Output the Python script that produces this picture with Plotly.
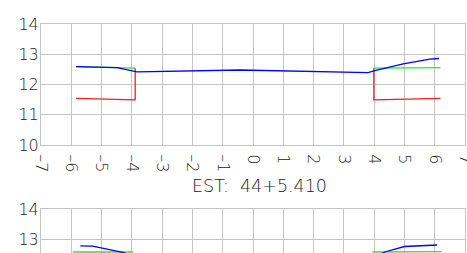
import plotly.graph_objects as go

# Section 1 (EST 44+5.410)
green1_x = [-5.84, -3.89]
green1_y = [12.59, 12.54]
green1b_x = [3.99, 6.19]
green1b_y = [12.54, 12.56]
red1_x = [-5.84, -3.89, -3.89]
red1_y = [11.54, 11.49, 12.54]
red1b_x = [3.99, 3.99, 6.19]
red1b_y = [12.54, 11.49, 11.54]
blue1_x = [-5.84, -4.49, -3.83, -0.42, 3.80, 3.99, 4.96, 5.84, 6.14]
blue1_y = [12.59, 12.56, 12.42, 12.48, 12.39, 12.45, 12.68, 12.84, 12.86]

# Section 2 (partially visible)
green2_x = [-5.94, -3.96]
green2_y = [12.60, 12.60]
green2b_x = [3.95, 6.22]
green2b_y = [12.60, 12.61]
blue2_x = [-5.70, -5.30, -4.30, -3.80, 0.0, 4.00, 4.35, 5.00, 6.08]
blue2_y = [12.80, 12.79, 12.59, 12.40, 12.30, 12.40, 12.60, 12.78, 12.83]

x_ticks = list(range(-7, 8))
x_labels = [str(v).replace("-", "\u2013") for v in x_ticks]
y1_ticks = [10, 11, 12, 13, 14]
y2_ticks = [13, 14]
title_text = "EST:  44+5.410"

BLUE = "#0000ff"
GREEN = "#22ee22"
RED = "#ff1a1a"
GRID = "#c4c4c4"
FONT = dict(family="DejaVu Sans", size=16, color="#222222", weight=200)

fig = go.Figure()

def add(x, y, color, xa, ya):
    fig.add_trace(go.Scatter(x=x, y=y, mode="lines", line=dict(color=color, width=1.3),
                             xaxis=xa, yaxis=ya, showlegend=False, hoverinfo="skip"))

add(green1_x, green1_y, GREEN, "x", "y")
add(green1b_x, green1b_y, GREEN, "x", "y")
add(red1_x, red1_y, RED, "x", "y")
add(red1b_x, red1b_y, RED, "x", "y")
add(blue1_x, blue1_y, BLUE, "x", "y")

add(green2_x, green2_y, GREEN, "x2", "y2")
add(green2b_x, green2b_y, GREEN, "x2", "y2")
add(blue2_x, blue2_y, BLUE, "x2", "y2")

axis_common = dict(showgrid=True, gridcolor=GRID, gridwidth=1, showline=True, linecolor=GRID,
                   linewidth=1, mirror=True, zeroline=False, ticks="", tickfont=FONT)

fig.update_layout(
    width=467, height=253,
    margin=dict(l=41, r=2, t=24, b=0, autoexpand=False),
    paper_bgcolor="white", plot_bgcolor="white",
    xaxis=dict(domain=[0, 1], range=[-7, 7], tickvals=x_ticks, ticktext=x_labels,
               tickangle=90, anchor="y", ticklabelstandoff=5, ticklabeloverflow="allow",
               **axis_common),
    yaxis=dict(domain=[0.4716, 1], range=[10, 14], tickvals=y1_ticks, anchor="x",
               ticklabelstandoff=-2, **axis_common),
    xaxis2=dict(domain=[0, 1], range=[-7, 7], tickvals=x_ticks, showticklabels=False,
                anchor="y2", **axis_common),
    yaxis2=dict(domain=[0, 0.1908], range=[12.567, 14], tickvals=y2_ticks, anchor="x2",
                ticklabelstandoff=-2, **axis_common),
    annotations=[dict(text=title_text, x=0.516, y=0.2926, xref="paper", yref="paper",
                      xanchor="center", yanchor="middle", showarrow=False,
                      font=dict(family="DejaVu Sans", size=17.5, color="#222222", weight=200))],
)

fig.write_html(
    "out.html",
    config={"displayModeBar": False},
    post_script="document.body.style.margin='0';document.documentElement.style.overflow='hidden';document.body.style.overflow='hidden';",
)
